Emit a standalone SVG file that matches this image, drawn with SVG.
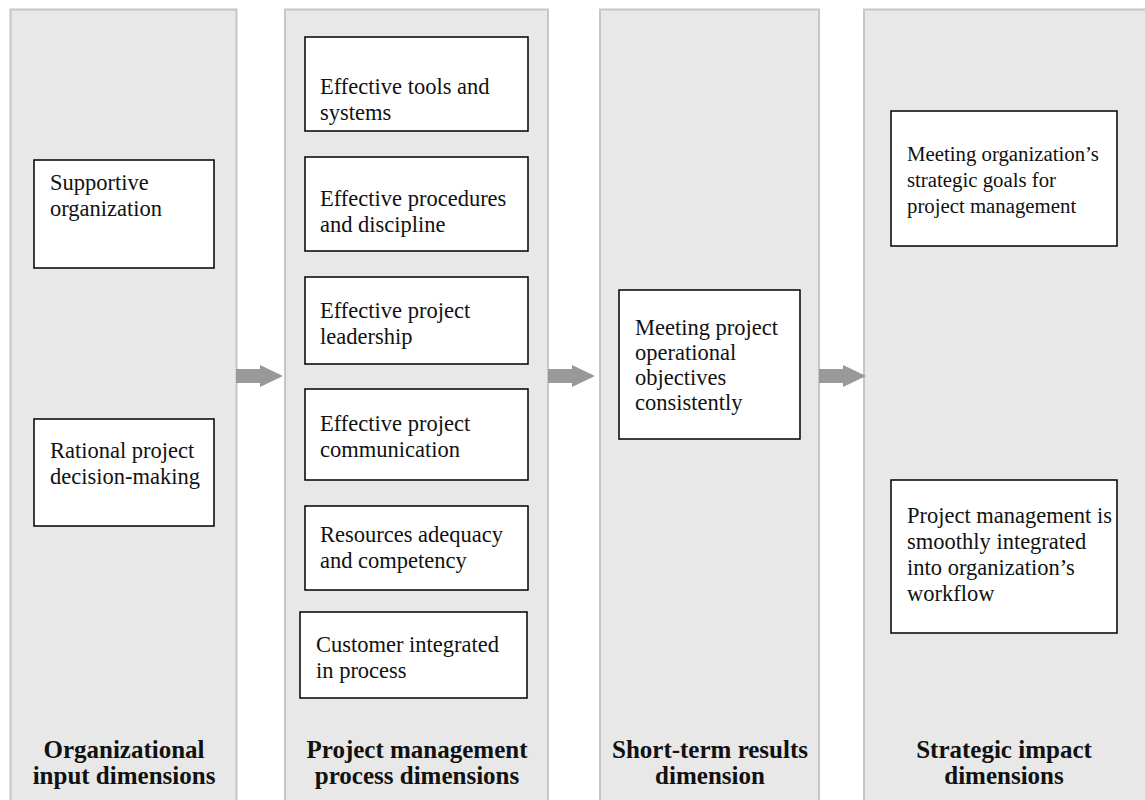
<svg xmlns="http://www.w3.org/2000/svg" width="1145" height="800" viewBox="0 0 1145 800">
<style>
.col{fill:#e8e8e8;stroke:#c6c6c6;stroke-width:2}
.box{fill:#fff;stroke:#000;stroke-width:1.5}
.t{font-family:"Liberation Serif","Times New Roman",serif;font-size:22.5px;fill:#111}
.s{font-size:20.8px}
.h{font-family:"Liberation Serif","Times New Roman",serif;font-size:25px;font-weight:bold;fill:#111;text-anchor:middle}
.arr{fill:#999}
</style>
<rect width="1145" height="800" fill="#fff"/>
<g id="col1"><rect class="col" x="10.5" y="9.5" width="226" height="800"/>
<text class="h" x="124" y="758">Organizational</text><text class="h" x="124" y="784">input dimensions</text></g>
<g id="col2"><rect class="col" x="285" y="9.5" width="263" height="800"/>
<text class="h" x="417" y="758">Project management</text><text class="h" x="417" y="784">process dimensions</text></g>
<g id="col3"><rect class="col" x="600" y="9.5" width="219" height="800"/>
<text class="h" x="710" y="758">Short-term results</text><text class="h" x="710" y="784">dimension</text></g>
<g id="col4"><rect class="col" x="864" y="9.5" width="290" height="800"/>
<text class="h" x="1004" y="758">Strategic impact</text><text class="h" x="1004" y="784">dimensions</text></g>

<g id="n-supportive"><rect class="box" x="34" y="160" width="180" height="108"/>
<text class="t" x="50" y="190">Supportive</text><text class="t" x="50" y="216">organization</text></g>
<g id="n-rational"><rect class="box" x="34" y="419" width="180" height="107"/>
<text class="t" x="50" y="458">Rational project</text><text class="t" x="50" y="484">decision-making</text></g>

<g id="n-tools"><rect class="box" x="305" y="37" width="223" height="94"/>
<text class="t" x="320" y="94">Effective tools and</text><text class="t" x="320" y="120">systems</text></g>
<g id="n-procedures"><rect class="box" x="305" y="157" width="223" height="94"/>
<text class="t" x="320" y="206">Effective procedures</text><text class="t" x="320" y="232">and discipline</text></g>
<g id="n-leadership"><rect class="box" x="305" y="277" width="223" height="87"/>
<text class="t" x="320" y="318">Effective project</text><text class="t" x="320" y="344">leadership</text></g>
<g id="n-communication"><rect class="box" x="305" y="389" width="223" height="91"/>
<text class="t" x="320" y="431">Effective project</text><text class="t" x="320" y="457">communication</text></g>
<g id="n-resources"><rect class="box" x="305" y="506" width="223" height="84"/>
<text class="t" x="320" y="542">Resources adequacy</text><text class="t" x="320" y="568">and competency</text></g>
<g id="n-customer"><rect class="box" x="300" y="612" width="227" height="86"/>
<text class="t" x="316" y="652">Customer integrated</text><text class="t" x="316" y="678">in process</text></g>

<g id="n-meeting-project"><rect class="box" x="619" y="290" width="181" height="149"/>
<text class="t" x="635" y="335">Meeting project</text><text class="t" x="635" y="360">operational</text><text class="t" x="635" y="385">objectives</text><text class="t" x="635" y="410">consistently</text></g>

<g id="n-strategic-goals"><rect class="box" x="891" y="111" width="226" height="135"/>
<text class="t s" x="907" y="161">Meeting organization’s</text><text class="t s" x="907" y="187">strategic goals for</text><text class="t s" x="907" y="213">project management</text></g>
<g id="n-integrated"><rect class="box" x="891" y="480" width="226" height="153"/>
<text class="t" x="907" y="523">Project management is</text><text class="t" x="907" y="549">smoothly integrated</text><text class="t" x="907" y="575">into organization’s</text><text class="t" x="907" y="601">workflow</text></g>

<g id="connectors">
<polygon class="arr" points="236,369 260,369 260,365 283,376 260,387 260,383 236,383"/>
<polygon class="arr" points="548,369 572,369 572,365 595,376 572,387 572,383 548,383"/>
<polygon class="arr" points="819,369 843,369 843,365 866,376 843,387 843,383 819,383"/>
</g>
</svg>
